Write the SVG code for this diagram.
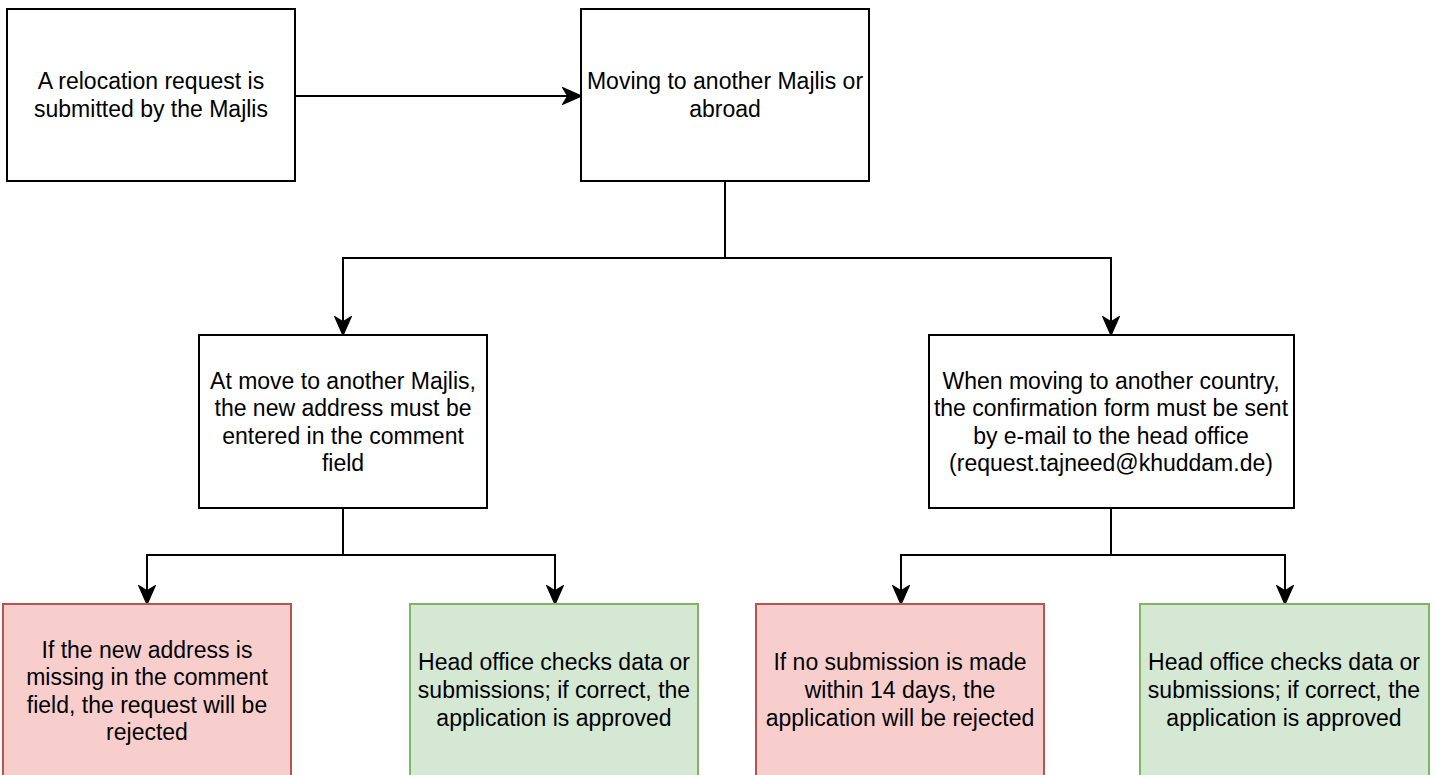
<svg xmlns="http://www.w3.org/2000/svg" width="1438" height="775" viewBox="0 0 1438 775">
<style>
.n{fill:#fff;stroke:#000;stroke-width:2}
.r{fill:#f8cecc;stroke:#b85450;stroke-width:2}
.g{fill:#d5e8d4;stroke:#82b366;stroke-width:2}
text{font-family:"Liberation Sans",Arial,sans-serif;font-size:23px;fill:#000;text-anchor:middle}
.c{fill:none;stroke:#000;stroke-width:2}
</style>
<defs>
<marker id="a" markerWidth="20" markerHeight="18" refX="18" refY="9" orient="auto" markerUnits="userSpaceOnUse" viewBox="0 0 20 18">
<path d="M1,1 L19,9 L1,17 L6,9 Z" fill="#000" stroke="#000" stroke-width="1.5" stroke-linejoin="miter"/>
</marker>
</defs>
<rect width="1438" height="775" fill="#fff"/>
<g id="connectors">
<path class="c" d="M295,96 H580" marker-end="url(#a)"/>
<path class="c" d="M725,181 V258 H343 V334" marker-end="url(#a)"/>
<path class="c" d="M725,258 H1111 V334" marker-end="url(#a)"/>
<path class="c" d="M343,508 V555 H147 V603" marker-end="url(#a)"/>
<path class="c" d="M343,555 H555 V603" marker-end="url(#a)"/>
<path class="c" d="M1111,508 V555 H901 V603" marker-end="url(#a)"/>
<path class="c" d="M1111,555 H1285 V603" marker-end="url(#a)"/>
</g>
<g id="n1"><rect class="n" x="7" y="9" width="288" height="172"/>
<text x="151" y="89">A relocation request is</text><text x="151" y="117">submitted by the Majlis</text></g>
<g id="n2"><rect class="n" x="581" y="9" width="288" height="172"/>
<text x="725" y="89">Moving to another Majlis or</text><text x="725" y="117">abroad</text></g>
<g id="n3"><rect class="n" x="199" y="335" width="288" height="173"/>
<text x="343" y="389">At move to another Majlis,</text><text x="343" y="416">the new address must be</text><text x="343" y="444">entered in the comment</text><text x="343" y="471">field</text></g>
<g id="n4"><rect class="n" x="929" y="335" width="365" height="173"/>
<text x="1111" y="389">When moving to another country,</text><text x="1111" y="416">the confirmation form must be sent</text><text x="1111" y="444">by e-mail to the head office</text><text x="1111" y="471">(request.tajneed@khuddam.de)</text></g>
<g id="n5"><rect class="r" x="3" y="604" width="288" height="174"/>
<text x="147" y="658">If the new address is</text><text x="147" y="685">missing in the comment</text><text x="147" y="713">field, the request will be</text><text x="147" y="740">rejected</text></g>
<g id="n6"><rect class="g" x="410" y="604" width="288" height="174"/>
<text x="554" y="670">Head office checks data or</text><text x="554" y="698">submissions; if correct, the</text><text x="554" y="726">application is approved</text></g>
<g id="n7"><rect class="r" x="756" y="604" width="288" height="174"/>
<text x="900" y="670">If no submission is made</text><text x="900" y="698">within 14 days, the</text><text x="900" y="726">application will be rejected</text></g>
<g id="n8"><rect class="g" x="1140" y="604" width="289" height="174"/>
<text x="1284" y="670">Head office checks data or</text><text x="1284" y="698">submissions; if correct, the</text><text x="1284" y="726">application is approved</text></g>
</svg>
